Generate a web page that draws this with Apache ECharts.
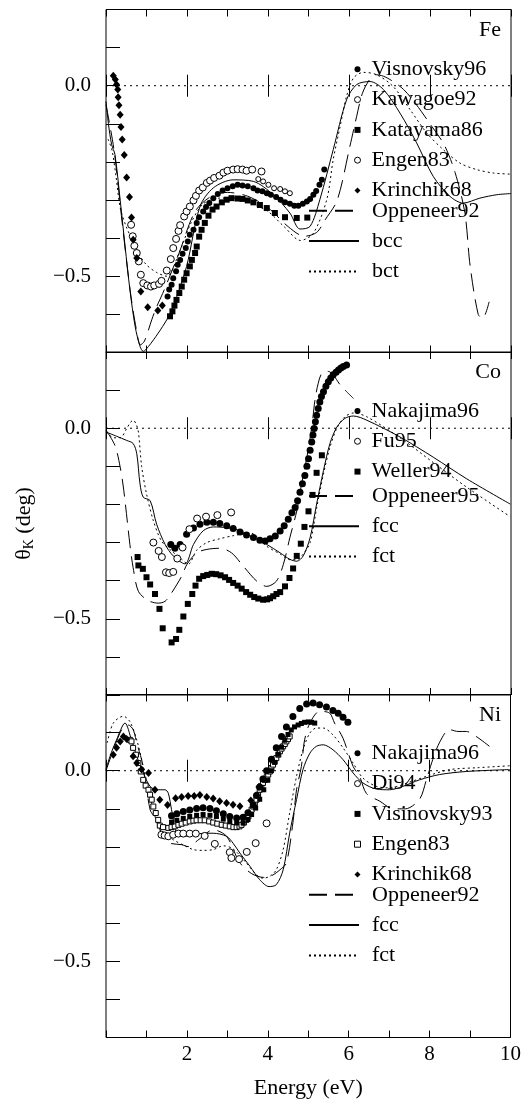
<!DOCTYPE html>
<html>
<head>
<meta charset="utf-8">
<script src="https://cdn.jsdelivr.net/npm/echarts@6/dist/echarts.min.js"></script>
<style>
  html, body { margin: 0; padding: 0; background: #fff; }
  #chart { width: 524px; height: 1102px; }
</style>
</head>
<body>
<div id="chart"></div>
<script>
// Kerr rotation spectra, Fe / Co / Ni
const xTicks = [2, 4, 6, 8, 10];
const yTicks = ['0.0', '\u22120.5'];
const panels = ['Fe', 'Co', 'Ni'];

// ---- Fe ----
const feVisnovsky96 = [[1.52,-0.553],[1.56,-0.535],[1.62,-0.522],[1.66,-0.505],[1.73,-0.487],[1.77,-0.47],[1.83,-0.457],[1.89,-0.441],[1.97,-0.426],[2.02,-0.409],[2.07,-0.391],[2.16,-0.378],[2.24,-0.36],[2.30,-0.345],[2.40,-0.33],[2.47,-0.318],[2.55,-0.308],[2.65,-0.295],[2.76,-0.284],[2.88,-0.275],[3.00,-0.269],[3.13,-0.264],[3.25,-0.26],[3.37,-0.262],[3.50,-0.264],[3.64,-0.269],[3.74,-0.275],[3.86,-0.277],[3.97,-0.282],[4.07,-0.286],[4.20,-0.292],[4.31,-0.299],[4.42,-0.306],[4.54,-0.31],[4.65,-0.315],[4.75,-0.315],[4.86,-0.31],[4.96,-0.304],[5.04,-0.297],[5.12,-0.286],[5.19,-0.276],[5.27,-0.26],[5.33,-0.247],[5.39,-0.22]];
const feKawagoe92 = [[3.76,-0.245],[3.88,-0.251],[4.01,-0.26],[4.15,-0.269],[4.30,-0.271],[4.42,-0.277],[4.54,-0.282]];
const feKatayama86 = [[1.58,-0.605],[1.64,-0.592],[1.69,-0.577],[1.74,-0.562],[1.81,-0.544],[1.87,-0.527],[1.93,-0.509],[1.99,-0.492],[2.07,-0.474],[2.12,-0.457],[2.20,-0.439],[2.24,-0.422],[2.30,-0.396],[2.36,-0.378],[2.44,-0.36],[2.53,-0.341],[2.63,-0.325],[2.73,-0.317],[2.86,-0.306],[2.98,-0.299],[3.10,-0.295],[3.25,-0.296],[3.37,-0.297],[3.50,-0.301],[3.64,-0.306],[3.80,-0.313],[3.97,-0.321],[4.17,-0.334],[4.42,-0.345],[4.71,-0.347],[4.97,-0.346]];
const feEngen83 = [[0.62,-0.365],[0.66,-0.395],[0.70,-0.42],[0.76,-0.439],[0.81,-0.461],[0.86,-0.496],[0.92,-0.518],[1.02,-0.524],[1.11,-0.527],[1.19,-0.524],[1.31,-0.52],[1.37,-0.512],[1.50,-0.485],[1.60,-0.455],[1.66,-0.426],[1.73,-0.402],[1.79,-0.381],[1.83,-0.366],[1.93,-0.343],[1.99,-0.33],[2.07,-0.317],[2.16,-0.301],[2.22,-0.289],[2.30,-0.275],[2.39,-0.267],[2.49,-0.255],[2.57,-0.249],[2.67,-0.242],[2.80,-0.236],[2.90,-0.228],[3.00,-0.223],[3.14,-0.22],[3.25,-0.219],[3.37,-0.22],[3.47,-0.223],[3.61,-0.22],[3.84,-0.225]];
const feKrinchik68 = [[0.18,0.026],[0.23,0.016],[0.26,0.003],[0.29,-0.01],[0.30,-0.03],[0.32,-0.051],[0.35,-0.076],[0.37,-0.108],[0.40,-0.141],[0.45,-0.182],[0.51,-0.241],[0.58,-0.292],[0.63,-0.346],[0.67,-0.404],[0.76,-0.452],[0.86,-0.54],[1.03,-0.581],[1.28,-0.59],[1.39,-0.577]];
const feOppeneer92 = [[0,-0.05],[0.2,-0.17],[0.4,-0.36],[0.6,-0.54],[0.75,-0.64],[0.85,-0.68],[0.95,-0.67],[1.13,-0.614],[1.25,-0.58],[1.4,-0.545],[1.8,-0.44],[2.2,-0.33],[2.6,-0.29],[3.0,-0.28],[3.5,-0.29],[4.0,-0.32],[4.5,-0.37],[4.9,-0.395],[5.2,-0.385],[5.41,-0.352],[5.71,-0.30],[6.02,-0.16],[6.19,-0.08],[6.33,-0.02],[6.5,0.015],[6.64,0.029],[6.85,0.025],[7.09,0.011],[7.35,-0.01],[7.63,-0.045],[8.0,-0.1],[8.35,-0.155],[8.62,-0.228],[8.86,-0.333],[8.99,-0.472],[9.19,-0.6],[9.3,-0.61],[9.46,-0.567]];
const feBcc = [[0,-0.041],[0.06,-0.10],[0.14,-0.155],[0.22,-0.18],[0.35,-0.30],[0.47,-0.42],[0.59,-0.535],[0.72,-0.632],[0.84,-0.684],[0.92,-0.697],[1.05,-0.684],[1.29,-0.649],[1.50,-0.614],[1.66,-0.579],[1.99,-0.474],[2.32,-0.317],[2.65,-0.268],[3.14,-0.247],[3.64,-0.251],[4.13,-0.286],[4.54,-0.334],[4.79,-0.376],[5.04,-0.369],[5.28,-0.299],[5.61,-0.168],[5.94,-0.037],[6.19,0.003],[6.52,0.011],[6.85,-0.01],[7.26,-0.072],[7.67,-0.15],[8.08,-0.238],[8.49,-0.29],[8.82,-0.308],[9.23,-0.295],[9.65,-0.286],[10.0,-0.283]];
const feBct = [[0.05,-0.14],[0.15,-0.17],[0.25,-0.24],[0.35,-0.32],[0.5,-0.37],[0.65,-0.405],[0.8,-0.44],[1.0,-0.47],[1.25,-0.49],[1.5,-0.50],[1.8,-0.44],[2.1,-0.36],[2.4,-0.31],[2.8,-0.295],[3.2,-0.295],[3.6,-0.31],[4.0,-0.33],[4.4,-0.37],[4.8,-0.406],[5.12,-0.387],[5.45,-0.299],[5.61,-0.194],[5.78,-0.107],[5.94,-0.028],[6.11,0.02],[6.35,0.035],[6.68,0.029],[7.09,-0.002],[7.51,-0.063],[7.92,-0.124],[8.33,-0.168],[8.74,-0.203],[9.15,-0.22],[9.56,-0.229],[10.0,-0.232]];

// ---- Co ----
const coNakajima96 = [[1.60,-0.305],[1.70,-0.315],[1.83,-0.305],[1.99,-0.278],[2.16,-0.262],[2.32,-0.252],[2.49,-0.247],[2.65,-0.247],[2.81,-0.25],[2.98,-0.256],[3.14,-0.263],[3.31,-0.272],[3.47,-0.28],[3.64,-0.287],[3.80,-0.294],[3.93,-0.296],[4.05,-0.29],[4.18,-0.283],[4.30,-0.27],[4.40,-0.256],[4.50,-0.239],[4.59,-0.222],[4.67,-0.208],[4.73,-0.19],[4.79,-0.168],[4.85,-0.146],[4.91,-0.124],[4.96,-0.10],[5.0,-0.08],[5.04,-0.058],[5.08,-0.036],[5.11,-0.018],[5.14,-0.001],[5.17,0.017],[5.20,0.034],[5.24,0.052],[5.28,0.069],[5.32,0.083],[5.37,0.096],[5.43,0.11],[5.49,0.122],[5.55,0.132],[5.61,0.14],[5.68,0.147],[5.74,0.153],[5.80,0.158],[5.86,0.162],[5.94,0.166]];
const coFu95 = [[1.17,-0.30],[1.30,-0.322],[1.38,-0.338],[1.48,-0.378],[1.56,-0.38],[1.66,-0.377],[1.76,-0.342],[1.89,-0.313],[2.06,-0.265],[2.25,-0.237],[2.47,-0.232],[2.75,-0.228],[3.09,-0.221]];
const coWeller94 = [[0.78,-0.338],[0.80,-0.36],[0.91,-0.369],[1.00,-0.391],[1.09,-0.41],[1.21,-0.435],[1.32,-0.474],[1.40,-0.525],[1.62,-0.562],[1.73,-0.553],[1.81,-0.529],[1.91,-0.494],[2.02,-0.461],[2.13,-0.435],[2.21,-0.413],[2.30,-0.395],[2.40,-0.388],[2.50,-0.385],[2.61,-0.382],[2.72,-0.383],[2.83,-0.386],[2.94,-0.391],[3.04,-0.398],[3.14,-0.406],[3.25,-0.413],[3.35,-0.421],[3.46,-0.43],[3.56,-0.437],[3.66,-0.443],[3.76,-0.447],[3.88,-0.45],[3.98,-0.449],[4.05,-0.446],[4.13,-0.441],[4.21,-0.435],[4.30,-0.43],[4.42,-0.415],[4.53,-0.393],[4.62,-0.368],[4.71,-0.335],[4.81,-0.303],[4.90,-0.259],[5.0,-0.218],[5.10,-0.175],[5.20,-0.117],[5.33,-0.071]];
const coOppeneer95 = [[0,-0.005],[0.22,-0.045],[0.35,-0.102],[0.44,-0.164],[0.59,-0.305],[0.67,-0.366],[0.8,-0.428],[1.04,-0.452],[1.29,-0.459],[1.46,-0.454],[1.62,-0.432],[1.87,-0.388],[2.0,-0.357],[2.24,-0.327],[2.49,-0.318],[2.81,-0.315],[3.1,-0.327],[3.39,-0.362],[3.72,-0.401],[3.97,-0.415],[4.21,-0.401],[4.38,-0.357],[4.54,-0.287],[4.71,-0.217],[4.83,-0.146],[4.96,-0.076],[5.08,0.003],[5.16,0.074],[5.24,0.118],[5.33,0.144],[5.49,0.149],[5.61,0.14],[5.78,0.114],[5.94,0.096],[6.11,0.078]];
const coFcc = [[0,-0.01],[0.26,-0.021],[0.51,-0.032],[0.67,-0.04],[0.76,-0.067],[0.84,-0.146],[0.92,-0.181],[1.09,-0.19],[1.25,-0.252],[1.46,-0.305],[1.66,-0.335],[1.95,-0.356],[2.16,-0.305],[2.40,-0.269],[2.65,-0.259],[2.98,-0.261],[3.31,-0.269],[3.64,-0.287],[3.97,-0.305],[4.30,-0.327],[4.54,-0.344],[4.71,-0.349],[4.87,-0.335],[5.04,-0.287],[5.20,-0.199],[5.37,-0.111],[5.53,-0.04],[5.70,0.003],[5.90,0.026],[6.11,0.032],[6.44,0.021],[7.26,-0.023],[8.08,-0.076],[8.91,-0.133],[9.98,-0.199]];
const coFct = [[0,-0.01],[0.2,-0.025],[0.35,-0.025],[0.51,-0.001],[0.6,0.015],[0.67,0.021],[0.74,0.012],[0.80,-0.01],[0.88,-0.10],[1.0,-0.172],[1.17,-0.243],[1.37,-0.296],[1.62,-0.322],[1.87,-0.344],[2.03,-0.357],[2.24,-0.32],[2.49,-0.30],[2.81,-0.29],[3.14,-0.282],[3.56,-0.275],[3.97,-0.31],[4.30,-0.33],[4.54,-0.345],[4.71,-0.345],[4.87,-0.33],[5.04,-0.30],[5.20,-0.21],[5.37,-0.12],[5.53,-0.05],[5.70,0.0],[5.90,0.03],[6.11,0.04],[6.44,0.03],[7.26,-0.025],[8.08,-0.09],[8.91,-0.155],[9.98,-0.232]];

// ---- Ni ----
const niNakajima96 = [[1.62,-0.118],[1.75,-0.113],[1.91,-0.107],[2.07,-0.103],[2.24,-0.099],[2.40,-0.097],[2.57,-0.099],[2.73,-0.105],[2.90,-0.113],[3.06,-0.12],[3.23,-0.124],[3.39,-0.122],[3.51,-0.11],[3.64,-0.09],[3.72,-0.065],[3.80,-0.043],[3.88,-0.022],[3.97,0.0],[4.09,0.03],[4.21,0.06],[4.34,0.09],[4.46,0.115],[4.62,0.142],[4.79,0.163],[4.96,0.175],[5.12,0.178],[5.28,0.173],[5.45,0.167],[5.61,0.158],[5.74,0.151],[5.86,0.14],[5.98,0.127]];
const niDi94 = [[1.37,-0.168],[1.45,-0.17],[1.54,-0.172],[1.66,-0.168],[1.79,-0.165],[1.91,-0.165],[2.07,-0.165],[2.22,-0.165],[2.44,-0.171],[2.69,-0.192],[3.06,-0.214],[3.10,-0.229],[3.29,-0.232],[3.48,-0.213],[3.70,-0.19],[3.97,-0.138]];
const niVisinovsky93 = [[1.62,-0.135],[1.75,-0.13],[1.91,-0.125],[2.07,-0.12],[2.24,-0.117],[2.40,-0.115],[2.57,-0.117],[2.73,-0.12],[2.90,-0.127],[3.06,-0.133],[3.23,-0.137],[3.39,-0.137],[3.51,-0.128],[3.60,-0.115],[3.70,-0.098],[3.80,-0.075],[3.90,-0.05],[4.00,-0.025],[4.09,0.0],[4.17,0.022],[4.26,0.043],[4.34,0.062],[4.42,0.08],[4.50,0.095],[4.58,0.107],[4.66,0.115],[4.75,0.12],[4.83,0.124],[4.91,0.127],[5.00,0.128],[5.08,0.127],[5.16,0.125]];
const niEngen83 = [[0.59,0.081],[0.63,0.077],[0.67,0.06],[0.74,0.042],[0.80,0.02],[0.86,-0.002],[0.92,-0.024],[0.98,-0.039],[1.05,-0.05],[1.09,-0.063],[1.13,-0.076],[1.17,-0.094],[1.23,-0.111],[1.29,-0.129],[1.33,-0.144],[1.41,-0.148],[1.54,-0.15],[1.62,-0.148],[1.70,-0.146],[1.79,-0.142],[1.87,-0.139],[1.97,-0.136],[2.07,-0.133],[2.16,-0.131],[2.24,-0.13],[2.34,-0.13],[2.44,-0.13],[2.55,-0.133],[2.65,-0.136],[2.75,-0.139],[2.86,-0.142],[2.96,-0.144],[3.06,-0.146],[3.15,-0.148],[3.23,-0.148],[3.30,-0.146],[3.35,-0.142],[3.41,-0.136],[3.47,-0.129],[3.52,-0.12],[3.56,-0.111],[3.60,-0.102],[3.64,-0.094],[3.68,-0.085],[3.72,-0.076],[3.76,-0.063],[3.80,-0.05],[3.84,-0.041],[3.88,-0.032],[3.93,-0.024],[3.97,-0.017],[4.01,-0.01],[4.05,-0.002],[4.09,0.007],[4.13,0.016],[4.17,0.024],[4.21,0.033],[4.26,0.042],[4.30,0.051],[4.34,0.058],[4.38,0.064],[4.42,0.07],[4.46,0.077],[4.50,0.083],[4.54,0.09]];
const niKrinchik68 = [[0.18,0.042],[0.26,0.06],[0.35,0.077],[0.43,0.09],[0.51,0.083],[0.67,0.038],[0.76,0.02],[0.88,0.003],[1.05,-0.006],[1.21,-0.05],[1.33,-0.076],[1.52,-0.09],[1.72,-0.072],[1.87,-0.069],[2.03,-0.066],[2.18,-0.066],[2.32,-0.064],[2.49,-0.069],[2.65,-0.073],[2.81,-0.08],[2.98,-0.085],[3.14,-0.089],[3.31,-0.093],[3.58,-0.078],[3.78,-0.043]];
const niOppeneer92 = [[0.0,0.0],[0.2,0.06],[0.4,0.11],[0.55,0.12],[0.67,0.108],[0.76,0.073],[0.9,0.02],[1.09,-0.102],[1.21,-0.124],[1.41,-0.172],[1.58,-0.19],[1.87,-0.194],[2.03,-0.199],[2.3,-0.18],[2.65,-0.155],[2.98,-0.172],[3.3,-0.24],[3.6,-0.27],[3.9,-0.28],[4.1,-0.275],[4.3,-0.26],[4.46,-0.242],[4.62,-0.137],[4.71,-0.05],[4.83,0.011],[4.91,0.081],[5.04,0.125],[5.28,0.156],[5.53,0.151],[5.65,0.125],[5.86,0.085],[6.11,0.011],[6.27,-0.015],[6.44,-0.06],[6.77,-0.08],[7.1,-0.10],[7.4,-0.10],[7.75,-0.075],[7.92,-0.024],[8.08,0.03],[8.25,0.075],[8.49,0.108],[8.70,0.103],[8.91,0.103],[9.15,0.09],[9.48,0.064]];
const niFcc = [[0,0.003],[0.1,0.038],[0.26,0.081],[0.47,0.125],[0.63,0.081],[0.76,0.038],[0.92,-0.006],[1.09,-0.041],[1.25,-0.05],[1.46,-0.05],[1.54,-0.059],[1.62,-0.102],[1.75,-0.164],[1.99,-0.172],[2.32,-0.165],[2.65,-0.164],[2.98,-0.172],[3.14,-0.19],[3.31,-0.216],[3.56,-0.251],[3.80,-0.286],[4.03,-0.304],[4.21,-0.299],[4.38,-0.26],[4.54,-0.164],[4.71,-0.076],[4.87,0.003],[5.04,0.046],[5.20,0.064],[5.37,0.068],[5.61,0.055],[5.86,0.029],[6.11,-0.006],[6.35,-0.032],[6.68,-0.048],[7.01,-0.05],[7.34,-0.041],[7.75,-0.024],[8.25,-0.01],[8.91,-0.002],[9.98,0.003]];
const niFct = [[0.03,0.073],[0.18,0.125],[0.43,0.143],[0.59,0.129],[0.76,0.081],[0.92,0.011],[1.05,-0.05],[1.17,-0.102],[1.33,-0.155],[1.66,-0.181],[1.95,-0.197],[2.16,-0.207],[2.40,-0.209],[2.65,-0.207],[2.90,-0.197],[3.14,-0.205],[3.47,-0.242],[3.72,-0.273],[3.88,-0.282],[4.05,-0.277],[4.21,-0.26],[4.38,-0.207],[4.54,-0.111],[4.71,-0.015],[4.87,0.055],[5.04,0.099],[5.20,0.112],[5.37,0.112],[5.61,0.094],[5.86,0.06],[6.11,0.02],[6.35,-0.019],[6.68,-0.041],[7.01,-0.045],[7.5,-0.03],[8.0,-0.012],[8.5,0.003],[9.2,0.008],[9.98,0.013]];

const zeroLine = [[0, 0], [10, 0]];

const FONT = 'Liberation Serif';
const DOT = [2, 3];
const DASH = [18, 8];
const gridTops = [9.5, 352, 694.5];

function dots(name, data, g, symbol, size, filled) {
  return {
    type: 'scatter', name: name, data: data,
    xAxisIndex: g, yAxisIndex: g,
    symbol: symbol, symbolSize: size, z: 4, silent: true,
    itemStyle: filled
      ? { color: '#000', opacity: 1 }
      : { color: '#fff', borderColor: '#000', borderWidth: 1, opacity: 1 }
  };
}

function curve(name, data, g, type) {
  return {
    type: 'line', name: name, data: data,
    xAxisIndex: g, yAxisIndex: g,
    symbol: 'none', smooth: 0.3, z: 3, silent: true,
    itemStyle: { color: '#000' },
    lineStyle: { color: '#000', width: 1, type: type }
  };
}

function zero(g) {
  return {
    type: 'line', data: zeroLine, xAxisIndex: g, yAxisIndex: g,
    symbol: 'none', silent: true, z: 2,
    lineStyle: { color: '#000', width: 1, type: [2, 4] }
  };
}

const series = [
  zero(0), zero(1), zero(2),
  curve('Fe:Oppeneer92', feOppeneer92, 0, DASH),
  curve('Fe:bcc', feBcc, 0, 'solid'),
  curve('Fe:bct', feBct, 0, DOT),
  dots('Fe:Visnovsky96', feVisnovsky96, 0, 'circle', 6, true),
  dots('Fe:Kawagoe92', feKawagoe92, 0, 'circle', 5, false),
  dots('Fe:Katayama86', feKatayama86, 0, 'rect', 6, true),
  dots('Fe:Engen83', feEngen83, 0, 'circle', 7, false),
  dots('Fe:Krinchik68', feKrinchik68, 0, 'diamond', [7, 8], true),

  curve('Co:Oppeneer95', coOppeneer95, 1, DASH),
  curve('Co:fcc', coFcc, 1, 'solid'),
  curve('Co:fct', coFct, 1, DOT),
  dots('Co:Nakajima96', coNakajima96, 1, 'circle', 7, true),
  dots('Co:Fu95', coFu95, 1, 'circle', 7, false),
  dots('Co:Weller94', coWeller94, 1, 'rect', 6, true),

  curve('Ni:Oppeneer92', niOppeneer92, 2, DASH),
  curve('Ni:fcc', niFcc, 2, 'solid'),
  curve('Ni:fct', niFct, 2, DOT),
  dots('Ni:Engen83', niEngen83, 2, 'rect', 5, false),
  dots('Ni:Nakajima96', niNakajima96, 2, 'circle', 7, true),
  dots('Ni:Visinovsky93', niVisinovsky93, 2, 'rect', 5, true),
  dots('Ni:Di94', niDi94, 2, 'circle', 7, false),
  dots('Ni:Krinchik68', niKrinchik68, 2, 'diamond', [7, 8], true)
];

const labelStyle = { fontFamily: FONT, fontSize: 21, color: '#000' };
const legendText = { fontFamily: FONT, fontSize: 22, color: '#000', lineHeight: 20 };

function symbolLegend(names, top) {
  return {
    data: names, orient: 'vertical', left: 354, top: top, padding: 0,
    itemWidth: 6, itemHeight: 6, itemGap: 8.3, selectedMode: false,
    itemStyle: { borderWidth: 1 },
    formatter: function (n) { return n.split(':')[1]; },
    textStyle: Object.assign({ padding: [0, 0, 0, 6] }, legendText)
  };
}

function lineLegend(names, top) {
  return {
    data: names, orient: 'vertical', left: 308, top: top, padding: 0,
    itemWidth: 50, itemHeight: 10, itemGap: 8.3, selectedMode: false,
    itemStyle: { opacity: 0 },
    formatter: function (n) { return n.split(':')[1]; },
    textStyle: Object.assign({ padding: [0, 0, 0, 8] }, legendText)
  };
}

// the grid border is the frame; axes are pushed inwards so their ticks sit inside it
const grids = gridTops.map(function (t) {
  return {
    left: 106, right: 13, top: t, height: 343,
    show: true, borderColor: '#000', borderWidth: 1, backgroundColor: 'transparent'
  };
});

const X_MAJOR = 11;
const X_MINOR = 7;
const Y_TICK = 7;

function xAxis(g, pos, interval, len, withLabels) {
  const ax = {
    type: 'value', gridIndex: g, position: pos, offset: -len,
    min: 0, max: 10, interval: interval,
    axisLine: { show: false },
    axisTick: { show: true, length: len, lineStyle: { color: '#000', width: 1 } },
    splitLine: { show: false },
    axisLabel: { show: false }
  };
  if (withLabels) {
    ax.axisLabel = Object.assign({
      show: true, margin: 6 + len,
      formatter: function (v) { return xTicks.indexOf(v) >= 0 ? String(v) : ''; }
    }, labelStyle);
    ax.name = 'Energy (eV)';
    ax.nameLocation = 'middle';
    ax.nameGap = 40 + len;
    ax.nameTextStyle = { fontFamily: FONT, fontSize: 22, color: '#000' };
  }
  return ax;
}

function yAxis(g, pos, withLabels, withName) {
  const ax = {
    type: 'value', gridIndex: g, position: pos, offset: -Y_TICK,
    min: -0.7, max: 0.2, interval: 0.1,
    axisLine: { show: false },
    axisTick: { show: true, length: Y_TICK, lineStyle: { color: '#000', width: 1 } },
    splitLine: { show: false },
    axisLabel: { show: false }
  };
  if (withLabels) {
    ax.axisLabel = Object.assign({
      show: true, margin: 15 + Y_TICK,
      formatter: function (v) {
        if (Math.abs(v) < 1e-6) return yTicks[0];
        if (Math.abs(v + 0.5) < 1e-6) return yTicks[1];
        return '';
      }
    }, labelStyle);
  }
  if (withName) {
    ax.name = '{t|\u03B8}{s|K}{t| (deg)}';
    ax.nameLocation = 'middle';
    ax.nameGap = 70 + Y_TICK;
    ax.nameRotate = 90;
    ax.nameTextStyle = {
      color: '#000',
      rich: {
        t: { fontFamily: FONT, fontSize: 22, color: '#000' },
        s: { fontFamily: FONT, fontSize: 14, color: '#000', verticalAlign: 'bottom', padding: [10, 0, 0, 0] }
      }
    };
  }
  return ax;
}

const xAxes = [];
const yAxes = [];
[0, 1, 2].forEach(function (g) {
  xAxes.push(xAxis(g, 'bottom', 2, X_MAJOR, g === 2));
  yAxes.push(yAxis(g, 'left', true, g === 1));
});
[0, 1, 2].forEach(function (g) {
  xAxes.push(xAxis(g, 'top', 2, X_MAJOR, false));
  xAxes.push(xAxis(g, 'bottom', 1, X_MINOR, false));
  xAxes.push(xAxis(g, 'top', 1, X_MINOR, false));
  yAxes.push(yAxis(g, 'right', false, false));
});

const titles = panels.map(function (p, i) {
  return {
    text: p, right: 23, top: [19, 361, 704][i], padding: 0,
    textStyle: { fontFamily: FONT, fontSize: 22, fontWeight: 'normal', color: '#000' }
  };
});

const chart = echarts.init(document.getElementById('chart'), null, { renderer: 'canvas' });
chart.setOption({
  backgroundColor: '#fff',
  animation: false,
  title: titles,
  grid: grids,
  xAxis: xAxes,
  yAxis: yAxes,
  legend: [
    symbolLegend(['Fe:Visnovsky96', 'Fe:Kawagoe92', 'Fe:Katayama86', 'Fe:Engen83', 'Fe:Krinchik68'], 58.3),
    lineLegend(['Fe:Oppeneer92', 'Fe:bcc', 'Fe:bct'], 199.8),
    symbolLegend(['Co:Nakajima96', 'Co:Fu95', 'Co:Weller94'], 400),
    lineLegend(['Co:Oppeneer95', 'Co:fcc', 'Co:fct'], 485),
    symbolLegend(['Ni:Nakajima96', 'Ni:Di94', 'Ni:Visinovsky93', 'Ni:Engen83', 'Ni:Krinchik68'], 742.3),
    lineLegend(['Ni:Oppeneer92', 'Ni:fcc', 'Ni:fct'], 883.8)
  ],
  series: series
});
</script>
</body>
</html>
